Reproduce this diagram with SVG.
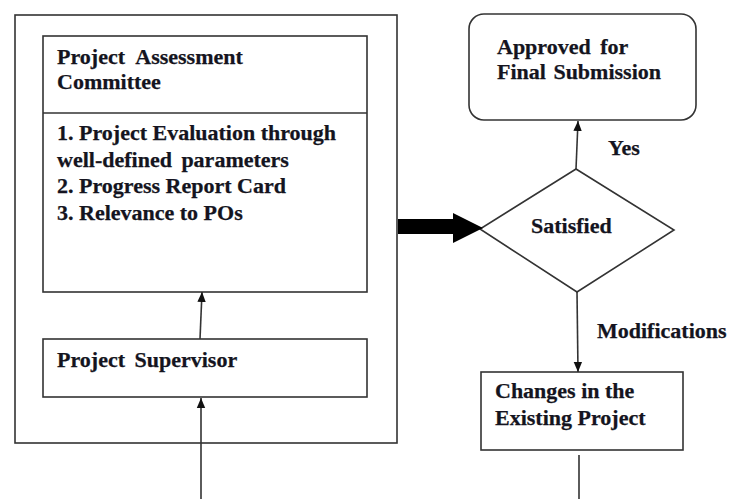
<svg xmlns="http://www.w3.org/2000/svg" width="732" height="499" viewBox="0 0 732 499">
  <style>
    .box { fill: #ffffff; stroke: #333333; stroke-width: 1.6; }
    .line { fill: none; stroke: #333333; stroke-width: 1.6; }
    .lbl { font-family: "Liberation Serif", "Times New Roman", serif; font-weight: bold; font-size: 22px; fill: #141420; stroke: #141420; stroke-width: 0.25; }
    .ws { word-spacing: 4px; }
  </style>
  <defs>
    <marker id="head" markerUnits="userSpaceOnUse" markerWidth="10" markerHeight="10" viewBox="0 0 10 10" refX="10" refY="5" orient="auto">
      <path d="M0,0.8 L10,5 L0,9.2 Z" fill="#111111"/>
    </marker>
  </defs>

  <rect width="732" height="499" fill="#ffffff"/>

  <!-- outer frame around the committee and supervisor -->
  <g id="frame">
    <rect class="box" x="15" y="15" width="382" height="428"/>
  </g>

  <g id="committee">
    <rect class="box" x="43" y="36" width="324" height="256"/>
    <line class="line" x1="43" y1="113" x2="367" y2="113"/>
    <text class="lbl ws" x="57" y="64" style="word-spacing:6px">Project Assessment</text>
    <text class="lbl" x="57" y="89">Committee</text>
    <text class="lbl" x="57" y="140">1. Project Evaluation through</text>
    <text class="lbl ws" x="57" y="167">well-defined parameters</text>
    <text class="lbl" x="57" y="193">2. Progress Report Card</text>
    <text class="lbl" x="57" y="220">3. Relevance to POs</text>
  </g>

  <g id="supervisor">
    <rect class="box" x="43" y="339" width="324" height="58"/>
    <text class="lbl ws" x="57" y="367">Project Supervisor</text>
  </g>

  <g id="approved">
    <rect class="box" x="469" y="14" width="227" height="106" rx="15" ry="15"/>
    <text class="lbl ws" x="497" y="54">Approved for</text>
    <text class="lbl" x="497" y="79" style="word-spacing:2px">Final Submission</text>
  </g>

  <g id="satisfied">
    <polygon class="box" points="576,169 674,230 577,292 480,229"/>
    <text class="lbl" x="531" y="233">Satisfied</text>
  </g>

  <g id="changes">
    <rect class="box" x="481" y="372" width="202" height="78"/>
    <text class="lbl" x="495" y="398">Changes in the</text>
    <text class="lbl" x="495" y="425">Existing Project</text>
  </g>

  <g id="connectors">
    <line class="line" x1="201" y1="499" x2="201" y2="398" marker-end="url(#head)"/>
    <line class="line" x1="200" y1="339" x2="202" y2="292" marker-end="url(#head)"/>
    <line class="line" x1="576" y1="169" x2="578" y2="121" marker-end="url(#head)"/>
    <line class="line" x1="577" y1="292" x2="578" y2="372" marker-end="url(#head)"/>
    <line class="line" x1="579" y1="455" x2="579" y2="499"/>
    <polygon points="398,219 453,219 453,213 483,228 453,243 453,234 398,234" fill="#000000"/>
    <text class="lbl" x="608" y="155">Yes</text>
    <text class="lbl" x="597" y="338">Modifications</text>
  </g>
</svg>
